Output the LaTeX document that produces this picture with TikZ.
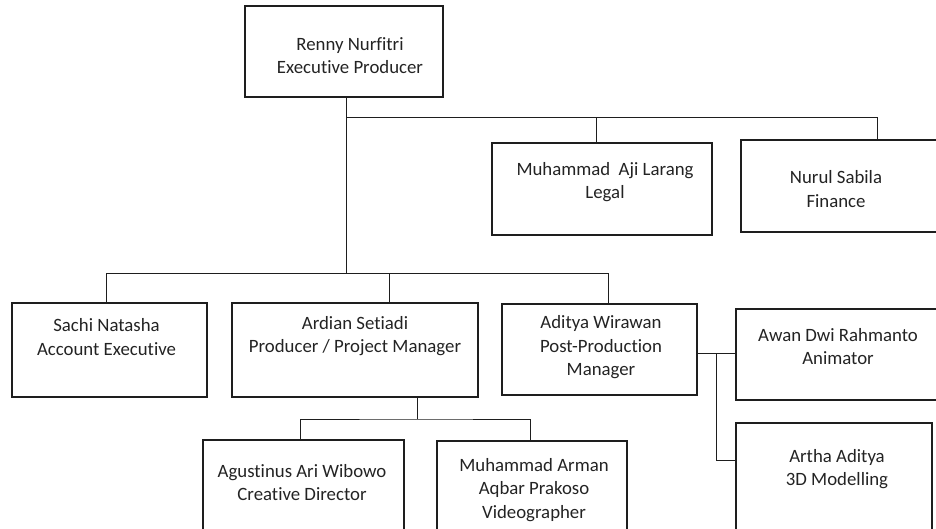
\documentclass[tikz,border=0pt]{standalone}
\usepackage{fontspec}
\setmainfont{Carlito}[Ligatures=CommonOff]
\usetikzlibrary{positioning, calc}
\definecolor{LineColor}{RGB}{30,30,30}
\definecolor{TextColor}{RGB}{35,35,35}
\tikzstyle{box} = [rectangle, draw=LineColor, line width=1.2pt, inner sep=0pt]
\tikzstyle{boxtext} = [align=center, font=\fontsize{18.8}{23.5}\selectfont, text=TextColor, inner sep=0pt]
\tikzstyle{link} = [LineColor, line width=1pt]

\begin{document}
\begin{tikzpicture}[x=1pt, y=-1pt]
    \useasboundingbox (0,0) rectangle (936,528);
    \clip (0,0) rectangle (936,528);

    % Top management
    \node[box, minimum width=198pt, minimum height=91pt] (renny) at (344,51.5) {};
    \node[boxtext] (rennyText) at (350,55.5) {Renny Nurfitri\\Executive Producer};
    \node[box, minimum width=220pt, minimum height=92pt] (legal) at (602,189) {};
    \node[boxtext] (legalText) at (605,182) {Muhammad\ \ Aji Larang\\Legal};
    \node[box, minimum width=199pt, minimum height=92pt] (finance) at (840.5,186) {};
    \node[boxtext] (financeText) at (836,189) {Nurul Sabila\\Finance};

    % Second level
    \node[box, minimum width=195pt, minimum height=94pt] (sachi) at (109.5,350) {};
    \node[boxtext] (sachiText) at (106.5,337) {Sachi Natasha\\Account Executive};
    \node[box, minimum width=246pt, minimum height=94pt] (ardian) at (355,350) {};
    \node[boxtext] (ardianText) at (355,336) {Ardian Setiadi\\Producer / Project Manager};
    \node[box, minimum width=195pt, minimum height=91pt] (aditya) at (599.5,349.5) {};
    \node[boxtext] (adityaText) at (601,347.5) {Aditya Wirawan\\Post-Production\\Manager};

    % Post-production team
    \node[box, minimum width=206pt, minimum height=91pt] (awan) at (839,354.5) {};
    \node[boxtext] (awanText) at (838,346.5) {Awan Dwi Rahmanto\\Animator};
    \node[box, minimum width=196pt, minimum height=117pt] (artha) at (834,481.5) {};
    \node[boxtext] (arthaText) at (837,469) {Artha Aditya\\3D Modelling};

    % Production team
    \node[box, minimum width=201pt, minimum height=100pt] (agustinus) at (303.5,490) {};
    \node[boxtext] (agustinusText) at (302,482.5) {Agustinus Ari Wibowo\\Creative Director};
    \node[box, minimum width=190pt, minimum height=99pt] (arman) at (532,490.5) {};
    \node[boxtext] (armanText) at (534,490) {Muhammad Arman\\Aqbar Prakoso\\Videographer};

    % Connectors
    \coordinate (topBus) at (346,117);
    \coordinate (midBus) at (346,273);
    \coordinate (lowBus) at (417,419);
    \coordinate (postSplit) at (716,353);
    \coordinate (arthaIn) at (736,460);

    \draw[link] (renny.south -| midBus) -- (midBus);
    \draw[link] (topBus) -| ([xshift=-6pt]legal.north);
    \draw[link] (topBus) -| ([xshift=36.5pt]finance.north);
    \draw[link] ([xshift=-3.5pt]sachi.north) |- (midBus);
    \draw[link] (midBus) -| ([xshift=8.5pt]aditya.north);
    \draw[link] ([xshift=34pt]ardian.north) |- (midBus);
    \draw[link] ([xshift=62pt]ardian.south) -- (lowBus);
    \draw[link] ([xshift=-3.5pt]agustinus.north) |- (lowBus) -| ([xshift=-2pt]arman.north);
    \draw[link] (aditya.east |- postSplit) -- (awan.west |- postSplit);
    \draw[link] (postSplit) |- (arthaIn);
\end{tikzpicture}
\end{document}
